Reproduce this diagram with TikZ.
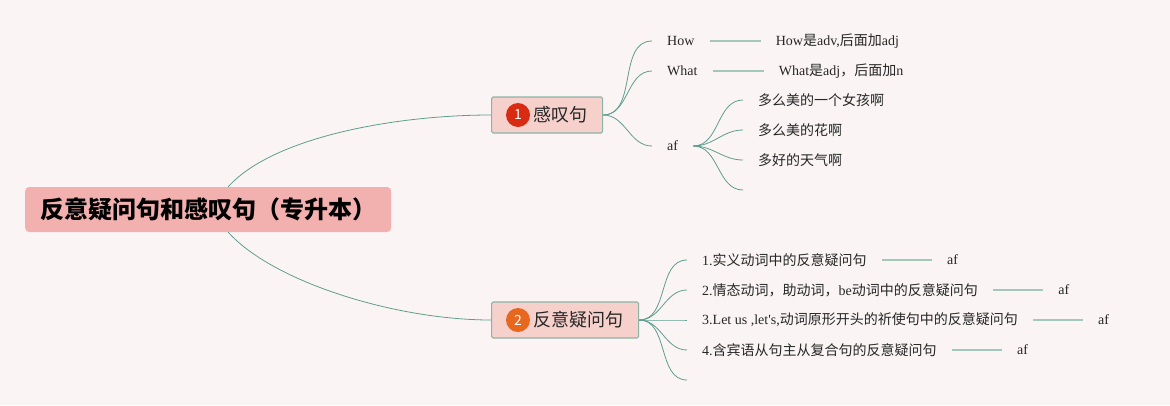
\documentclass[tikz,border=0pt]{standalone}
\usepackage{fontspec}
\setmainfont{Liberation Serif}[Ligatures=TeXOff]
\newfontfamily\cjk{Noto Sans CJK SC}
\usetikzlibrary{positioning}
\newcommand\zw[1]{{\cjk #1}}
\definecolor{bgpink}{HTML}{FBF4F5}
\definecolor{rootpink}{HTML}{F2B0AE}
\definecolor{boxpink}{HTML}{F6D0CB}
\definecolor{boxline}{HTML}{8DB3A6}
\definecolor{linkgreen}{HTML}{5F9E8F}
\definecolor{barline}{HTML}{A3C7BC}
\definecolor{numred}{HTML}{D92B12}
\definecolor{numorange}{HTML}{E8671E}
\begin{document}
\begin{tikzpicture}[x=1pt,y=-1pt,
  root/.style={anchor=west,fill=rootpink,rounded corners=4pt,inner xsep=15pt,minimum height=45pt,
    font=\cjk\bfseries\fontsize{24}{28}\selectfont},
  topic/.style={anchor=west,draw=boxline,line width=1.2pt,fill=boxpink,rounded corners=1.5pt,
    inner xsep=15pt,minimum height=36pt,text=black!85,font=\cjk\fontsize{18}{20}\selectfont},
  num/.style={circle,inner sep=0pt,minimum size=24pt,text=white,font=\cjk\fontsize{14}{14}\selectfont},
  leaf/.style={anchor=west,inner xsep=15pt,inner ysep=2pt,text=black!85,font=\fontsize{14}{16}\selectfont},
  link/.style={draw=linkgreen,line width=0.8pt},
  bar/.style={draw=barline,line width=1.3pt}]
\fill[bgpink] (0,0) rectangle (1170,405);
\useasboundingbox (0,0) rectangle (1170,405);

\node[root] (root) at (25,209.5) {反意疑问句和感叹句（专升本）};

% 感叹句
\node[topic] (gt) at (491,115) {\hspace*{27pt}感叹句};
\node[num,fill=numred] (n1) at ([xshift=27pt]gt.west) {1};
\draw[link] ([xshift=20pt]root.north) .. controls +(45,-50) and +(-95,0) .. (gt.west);

\node[leaf] (how) at (652,41) {How};
\node[leaf,right=51pt of how] (howd) {How\zw{是}adv,\zw{后面加}adj};
\node[leaf] (what) at (652,71) {What};
\node[leaf,right=51pt of what] (whatd) {What\zw{是}adj\zw{，后面加}n};
\node[leaf] (af) at (652,146) {af};
\draw[link] (gt.east) to[out=0,in=180] (how.west);
\draw[link] (gt.east) to[out=0,in=180] (what.west);
\draw[link] (gt.east) to[out=0,in=180] (af.west);
\draw[bar] (how.east) -- (howd.west);
\draw[bar] (what.east) -- (whatd.west);

\node[leaf] (g1) at (743,100) {\zw{多么美的一个女孩啊}};
\node[leaf] (g2) at (743,130) {\zw{多么美的花啊}};
\node[leaf] (g3) at (743,160) {\zw{多好的天气啊}};
\coordinate (g4) at (743,190);
\draw[link] (af.east) to[out=0,in=180] (g1.west);
\draw[link] (af.east) to[out=0,in=180] (g2.west);
\draw[link] (af.east) to[out=0,in=180] (g3.west);
\draw[link] (af.east) to[out=0,in=180] (g4);

% 反意疑问句
\node[topic] (fy) at (491,320) {\hspace*{27pt}反意疑问句};
\node[num,fill=numorange] (n2) at ([xshift=27pt]fy.west) {2};
\draw[link] ([xshift=20pt]root.south) .. controls +(45,50) and +(-95,0) .. (fy.west);

\node[leaf] (q1) at (687,260) {1.\zw{实义动词中的反意疑问句}};
\node[leaf] (q2) at (687,290) {2.\zw{情态动词，助动词，}be\zw{动词中的反意疑问句}};
\node[leaf] (q3) at (687,320) {3.Let us ,let's,\zw{动词原形开头的祈使句中的反意疑问句}};
\node[leaf] (q4) at (687,350) {4.\zw{含宾语从句主从复合句的反意疑问句}};
\coordinate (q5) at (687,380);
\draw[link] (fy.east) to[out=0,in=180] (q1.west);
\draw[link] (fy.east) to[out=0,in=180] (q2.west);
\draw[link] (fy.east) to[out=0,in=180] (q3.west);
\draw[link] (fy.east) to[out=0,in=180] (q4.west);
\draw[link] (fy.east) to[out=0,in=180] (q5);

\node[leaf,right=50pt of q1] (a1) {af};
\node[leaf,right=50pt of q2] (a2) {af};
\node[leaf,right=50pt of q3] (a3) {af};
\node[leaf,right=50pt of q4] (a4) {af};
\draw[bar] (q1.east) -- (a1.west);
\draw[bar] (q2.east) -- (a2.west);
\draw[bar] (q3.east) -- (a3.west);
\draw[bar] (q4.east) -- (a4.west);
\end{tikzpicture}
\end{document}
